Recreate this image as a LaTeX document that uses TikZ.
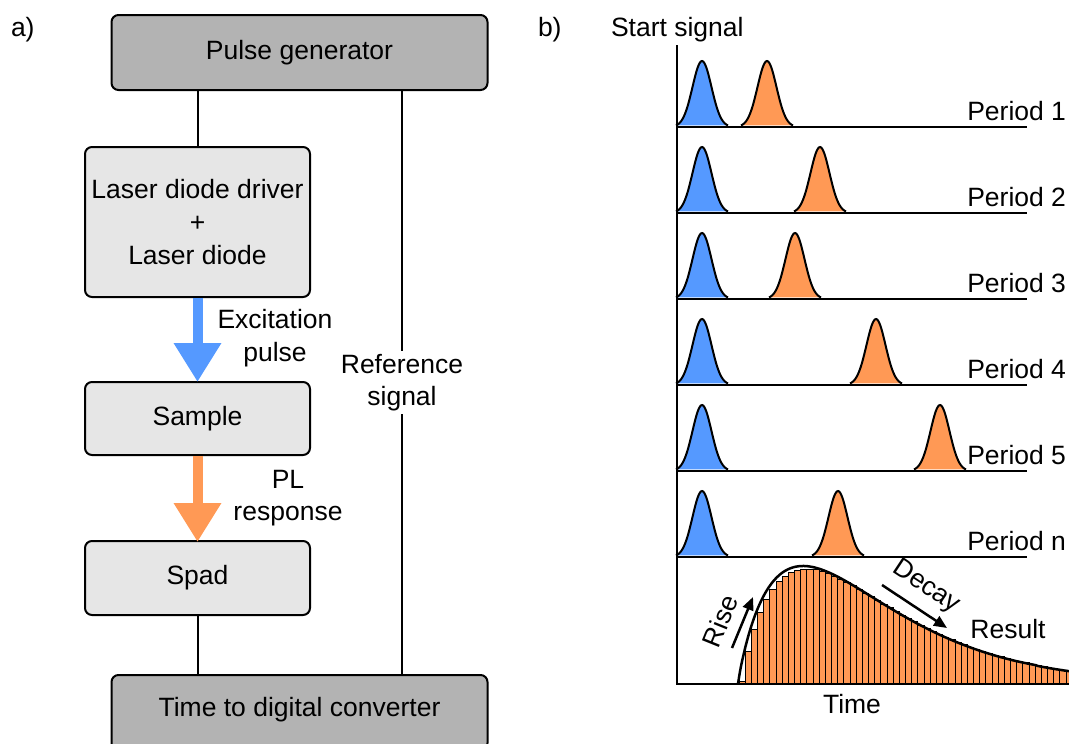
\documentclass[tikz,border=0pt]{standalone}
\usepackage{fontspec}
\setmainfont{Liberation Sans}
\usetikzlibrary{arrows.meta}
\definecolor{pblue}{RGB}{85,153,255}
\definecolor{porange}{RGB}{255,153,85}
\definecolor{dgray}{RGB}{179,179,179}
\definecolor{lgray}{RGB}{230,230,230}
\begin{document}
\begin{tikzpicture}[x=1pt,y=-1pt,line width=2pt,
  font=\fontsize{26.5}{32.5}\selectfont,
  box/.style={draw,line width=2pt,rounded corners=7pt,align=center,inner sep=0pt},
  darkbox/.style={box,fill=dgray,minimum width=376pt,minimum height=75pt},
  lightbox/.style={box,fill=lgray,minimum width=225pt},
  bigarrow/.style={line width=10pt,-{Triangle[width=45pt,length=39pt]}},
  pulse/.style={draw=black,line width=2pt},
  bar/.style={fill=porange,draw=black,line width=0.9pt},
  curvestyle/.style={line width=2.5pt},
  smallarrow/.style={line width=2.5pt,-{Triangle[length=13pt,width=11pt]}},
  lbl/.style={inner sep=0pt}]
\useasboundingbox (0,0) rectangle (1069,744);

% ---------- panel a ----------
\node[lbl,anchor=base west] (la) at (10,36) {a)};
\node[darkbox] (pg) at (299.5,52.5) {Pulse generator};
\node[lightbox,minimum height=150pt,font=\fontsize{26.5}{33}\selectfont] (laser) at (197.5,222) {Laser diode driver\\+\\Laser diode};
\node[lightbox,minimum height=73pt] (sample) at (197.5,418.5) {Sample};
\node[lightbox,minimum height=74pt] (spad) at (197.5,578) {Spad};
\node[darkbox] (tdc) at (299.5,712.5) {};
\node[lbl] (tdctext) at (299.5,710) {Time to digital converter};

\node[lbl,align=center] (exc) at (275,338) {Excitation\\pulse};
\node[lbl,align=center] (plr) at (288,498) {PL\\response};
\node[lbl,align=center,minimum height=61pt] (ref) at (402,382.5) {Reference\\signal};

\draw (laser.north |- pg.south) -- (laser.north);
\draw (spad.south) -- (spad.south |- tdc.north);
\draw (ref.north |- pg.south) -- (ref.north);
\draw (ref.south) -- (ref.south |- tdc.north);

\draw[bigarrow,pblue] (laser.south) -- ([yshift=-1pt]sample.north);
\draw[bigarrow,porange] (sample.south) -- ([yshift=-2pt]spad.north);

% ---------- panel b ----------
\node[lbl,anchor=base west] (lb) at (537,36) {b)};
\node[lbl,anchor=base west] (start) at (610,36) {Start signal};

\foreach \yb/\oc/\lab in {127/767/1,213/820/2,299/795/3,385/876/4,471/940/5,557/838/n}{
  \draw (677,\yb) -- (1027,\yb);
  \filldraw[pulse,fill=pblue] plot[domain=-26:26,samples=41,smooth] ({702+\x},{\yb-66*exp(-(\x)^2/(2*90))});
  \filldraw[pulse,fill=porange] plot[domain=-26:26,samples=41,smooth] ({\oc+\x},{\yb-66*exp(-(\x)^2/(2*90))});
  \node[lbl,anchor=base east] at (1067,\yb-6.5) {Period \lab};
}

% histogram
\foreach \i in {0,...,53}{
  \pgfmathsetmacro\bl{739+6.17*\i}
  \pgfmathsetmacro\tt{\bl-738.6}
  \pgfmathsetmacro\bh{0.975*118*((\tt/65)*exp(1-\tt/65))^0.9}
  \filldraw[bar] (\bl,684) rectangle ({\bl+6.17},{684-\bh});
}
\draw[curvestyle] plot[domain=0.05:335,samples=200,smooth] ({738+\x},{684-118*((\x/65)*exp(1-\x/65))^0.9});

% axes
\draw (677,45) -- (677,685);
\draw (676,684) -- (1069,684);

\coordinate (r0) at (732,648);
\coordinate (r1) at (753,597);
\draw[smallarrow] (r0) -- (r1);
\node[lbl,rotate=68] (rise) at (720,621) {Rise};
\coordinate (d0) at (882,585);
\coordinate (d1) at (947,628);
\draw[smallarrow] (d0) -- (d1);
\node[lbl,rotate=-33.5] (decay) at (926,587) {Decay};
\node[lbl] (res) at (1008,629) {Result};
\node[lbl] (time) at (852,704) {Time};
\end{tikzpicture}
\end{document}
